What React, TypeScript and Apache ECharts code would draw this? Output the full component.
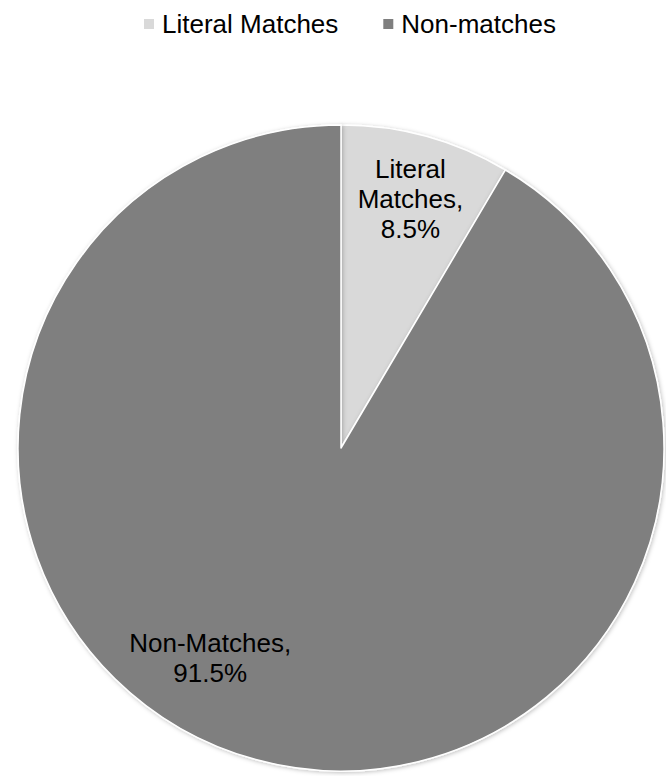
import React, { useEffect, useRef } from "react";
import * as echarts from "echarts";

const legendNames = ["Literal Matches", "Non-matches"];
const labelNames = ["Literal\nMatches", "Non-Matches"];
const values = [8.5, 91.5];
const colors = ["#d9d9d9", "#7f7f7f"];
// label offsets relative to pie center, in fractions of the radius
const labelOffsets = [
  [0.215, -0.77],
  [-0.405, 0.65],
];

export default function App() {
  const ref = useRef<HTMLDivElement>(null);
  useEffect(() => {
    document.body.style.margin = "0";
    const chart = echarts.init(ref.current!, null, { renderer: "svg" });
    const cx = 341;
    const cy = 448;
    const R = 323;
    chart.setOption({
      animation: false,
      backgroundColor: "#ffffff",
      textStyle: { fontFamily: "Liberation Sans, Arial, sans-serif" },
      legend: {
        top: 6,
        left: 137,
        itemWidth: 12,
        itemHeight: 12,
        itemGap: 43,
        icon: "rect",
        textStyle: {
          fontSize: 26,
          color: "#000",
          padding: [0, 0, 0, 2],
          fontFamily: "Liberation Sans, Arial, sans-serif",
        },
        data: legendNames,
      },
      series: [
        {
          type: "pie",
          center: [cx, cy],
          radius: [0, R],
          startAngle: 90,
          clockwise: true,
          itemStyle: {
            borderColor: "#ffffff",
            borderWidth: 1.5,
            shadowBlur: 4,
            shadowColor: "rgba(0,0,0,0.25)",
            shadowOffsetX: 1,
            shadowOffsetY: 1,
          },
          label: {
            show: true,
            position: "inside",
            fontSize: 26,
            lineHeight: 30,
            color: "#000",
            align: "center",
            fontFamily: "Liberation Sans, Arial, sans-serif",
            formatter: (p: any) =>
              labelNames[p.dataIndex] + ",\n" + values[p.dataIndex].toFixed(1) + "%",
          },
          labelLine: { show: false },
          labelLayout: (p: any) => {
            const o = labelOffsets[p.dataIndex];
            return {
              x: cx + o[0] * R,
              y: cy + o[1] * R,
              align: "center",
              verticalAlign: "middle",
            };
          },
          emphasis: { disabled: true },
          data: legendNames.map((n, i) => ({
            name: n,
            value: values[i],
            itemStyle: { color: colors[i] },
          })),
        },
      ],
    });
    return () => chart.dispose();
  }, []);
  return (
    <div
      ref={ref}
      style={{ position: "absolute", left: 0, top: 0, width: 666, height: 776 }}
    />
  );
}
